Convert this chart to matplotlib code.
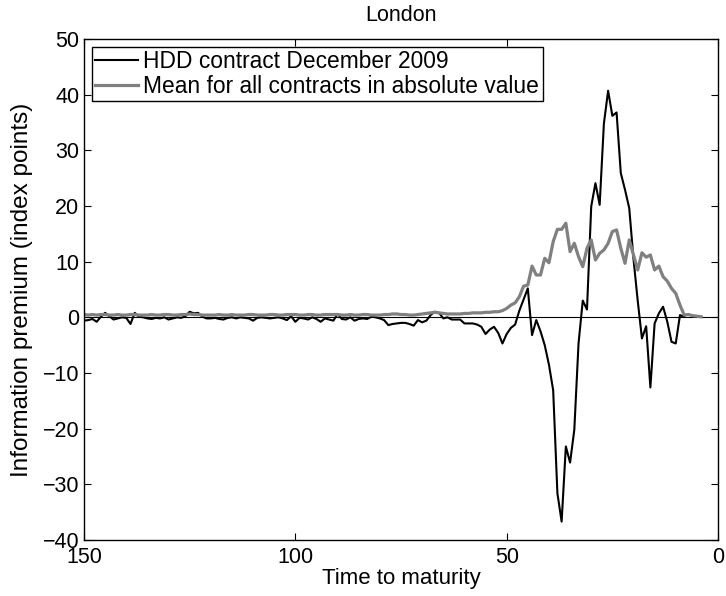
import numpy as np
import matplotlib

matplotlib.use("Agg")

import matplotlib.pyplot as plt

plt.rcParams["font.family"] = ["Liberation Sans", "DejaVu Sans"]

# time to maturity (days)
days_hdd = np.arange(150, 7, -1)
hdd_dec_2009 = [
    -0.6, -0.5, -0.3, -0.8, 0.1, 0.8, 0.2, -0.4, -0.2, 0.0,
    -0.1, -1.2, 0.8, 0.1, 0.0, -0.2, -0.3, -0.1, -0.2, 0.0,
    -0.4, -0.2, 0.0, -0.1, 0.2, 1.0, 0.7, 0.8, 0.1, -0.2,
    -0.2, -0.1, -0.3, -0.4, -0.1, 0.0, -0.2, 0.0, -0.1, -0.2,
    -0.6, -0.1, 0.0, -0.1, -0.2, -0.1, 0.0, -0.2, -0.5, 0.2,
    -0.8, -0.1, -0.2, -0.4, 0.0, -0.3, -0.8, -0.2, -0.4, -0.6,
    0.6, -0.3, -0.4, 0.0, -0.6, -0.3, -0.2, -0.3, 0.1, 0.0,
    -0.2, -0.5, -1.4, -1.2, -1.1, -1.0, -1.0, -1.2, -1.5, -0.5,
    -0.9, -0.6, 0.4, 1.0, 0.8, -0.2, 0.0, -0.4, -0.4, -0.4,
    -1.1, -1.1, -1.1, -1.3, -1.7, -3.0, -2.2, -1.7, -2.8, -4.7,
    -3.0, -1.9, -1.3, 1.2, 3.2, 5.2, -3.2, -0.5, -2.5, -5.0,
    -8.5, -13.1, -31.6, -36.7, -23.2, -26.1, -20.2, -4.7, 3.0, 1.4,
    19.9, 24.1, 20.2, 34.8, 40.7, 36.2, 36.8, 25.9, 22.9, 19.6,
    10.5, 3.0, -3.8, -1.6, -12.6, -1.1, 0.7, 1.9, -0.8, -4.4,
    -4.7, 0.4, 0.1,
]

days_mean = np.arange(150, 3, -1)
mean_abs = [
    0.5, 0.4, 0.5, 0.4, 0.5, 0.5, 0.4, 0.4, 0.5, 0.4,
    0.4, 0.5, 0.5, 0.4, 0.4, 0.4, 0.5, 0.4, 0.4, 0.5,
    0.5, 0.4, 0.4, 0.5, 0.5, 0.6, 0.5, 0.5, 0.4, 0.4,
    0.4, 0.4, 0.5, 0.4, 0.4, 0.5, 0.4, 0.4, 0.4, 0.5,
    0.5, 0.4, 0.4, 0.4, 0.5, 0.5, 0.4, 0.4, 0.5, 0.5,
    0.5, 0.4, 0.4, 0.5, 0.5, 0.4, 0.4, 0.5, 0.5, 0.5,
    0.5, 0.4, 0.4, 0.5, 0.4, 0.4, 0.5, 0.5, 0.4, 0.4,
    0.4, 0.5, 0.5, 0.6, 0.6, 0.5, 0.5, 0.4, 0.4, 0.5,
    0.6, 0.7, 0.8, 0.9, 0.8, 0.7, 0.6, 0.6, 0.6, 0.6,
    0.7, 0.7, 0.8, 0.8, 0.8, 0.9, 0.9, 1.0, 1.0, 1.2,
    1.6, 2.2, 2.6, 3.7, 5.6, 5.8, 9.2, 7.6, 7.6, 10.6,
    9.8, 13.6, 15.8, 15.8, 16.9, 11.8, 13.3, 10.9, 9.1, 12.4,
    13.9, 10.3, 11.5, 12.1, 13.3, 15.4, 15.7, 12.4, 9.7, 13.9,
    11.2, 8.5, 11.6, 10.8, 11.2, 8.5, 9.2, 7.3, 6.5, 5.2,
    4.3, 2.2, 0.4, 0.5, 0.3, 0.2, 0.1,
]

fig = plt.figure(figsize=(7.26, 5.96), dpi=100)
ax = fig.add_axes([0.1157, 0.094, 0.8733, 0.8406])

ax.axhline(0, color="black", linewidth=0.8)
ax.plot(days_hdd, hdd_dec_2009, color="black", linewidth=1.5,
        label="HDD contract December 2009")
ax.plot(days_mean, mean_abs, color="#808080", linewidth=2.3,
        label="Mean for all contracts in absolute value")

ax.set_xlim(150, 0)
ax.set_ylim(-40, 50)
ax.set_xticks([150, 100, 50, 0])
ax.set_yticks(np.arange(-40, 51, 10))
ax.tick_params(direction="in", top=True, right=True, length=5,
               labelsize=15.5, width=0.8)
ax.tick_params(axis="x", pad=5)
for side in ax.spines.values():
    side.set_linewidth(1.0)

ax.set_title("London", fontsize=15.5, pad=13)
ax.set_xlabel("Time to maturity", fontsize=16)
ax.set_ylabel("Information premium (index points)", fontsize=17.5)
ax.xaxis.set_label_coords(0.5, -0.056)
ax.yaxis.set_label_coords(-0.081, 0.5)

ax.legend(loc="upper left", fontsize=16.4, frameon=True, fancybox=False,
          edgecolor="black", framealpha=1, handlelength=1.85,
          borderpad=0.15, labelspacing=0.05, handletextpad=0.25,
          borderaxespad=0.35)

plt.savefig("out.png", dpi=100)
